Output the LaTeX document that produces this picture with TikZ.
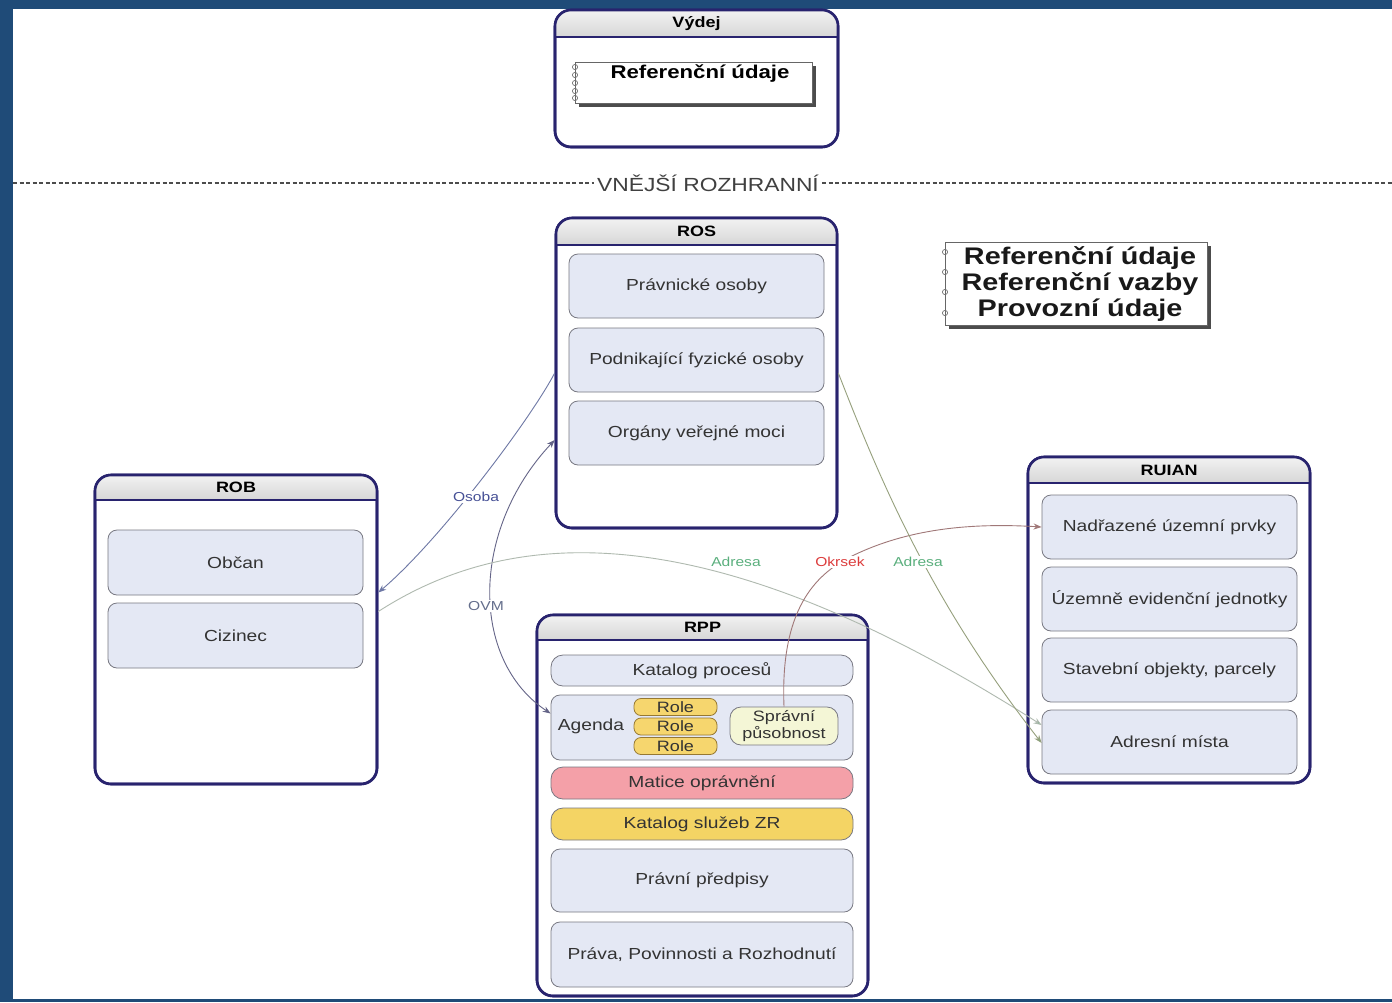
\documentclass[tikz,border=0pt]{standalone}
\usepackage{fontspec}
\setmainfont[FakeStretch=1.2]{Liberation Sans}
\usetikzlibrary{arrows.meta,calc}
\definecolor{frameblue}{RGB}{31,75,120}
\definecolor{navy}{RGB}{40,35,110}
\definecolor{itemfill}{RGB}{228,232,244}
\definecolor{itemline}{RGB}{120,120,130}
\definecolor{rolefill}{RGB}{246,214,110}
\definecolor{roleline}{RGB}{150,120,50}
\definecolor{spfill}{RGB}{244,246,214}
\definecolor{matfill}{RGB}{244,160,168}
\definecolor{katfill}{RGB}{244,212,100}
\definecolor{osobacol}{RGB}{70,80,150}
\definecolor{ovmcol}{RGB}{100,110,140}
\definecolor{adrcol}{RGB}{90,175,125}
\definecolor{okrcol}{RGB}{220,60,60}
\tikzset{
  container/.style={draw=navy, line width=2.6pt, rounded corners=16pt, fill=white, inner sep=0pt},
  itembox/.style={draw=itemline, line width=0.8pt, rounded corners=9pt, fill=itemfill,
    font=\fontsize{16}{18}\selectfont, text=black!80, inner sep=0pt, align=center},
  pill/.style={itembox, rounded corners=12pt},
  rolebox/.style={draw=roleline, line width=0.8pt, rounded corners=7pt, fill=rolefill,
    font=\fontsize{15}{15}\selectfont, text=black!80, inner sep=0pt, minimum width=83pt, minimum height=17pt},
  headtext/.style={font=\bfseries\fontsize{15}{17}\selectfont},
  notebox/.style={draw=black!60, line width=0.8pt, fill=white, inner sep=0pt},
  lbl/.style={font=\fontsize{13}{14}\selectfont, inner sep=1pt, fill=white},
  conn/.style={line width=0.9pt, -{Stealth[length=8pt,width=6pt]}},
}
\newcommand\mkcont[7]{%
  \node[container, minimum width={#4-#2}, minimum height={#5-#3}] (#1) at ({(#2+#4)/2},{(#3+#5)/2}) {};
  \begin{scope}
    \clip[rounded corners=16pt] (#2,#3) rectangle (#4,#5);
    \fill[top color=gray!10, bottom color=gray!32] (#2,#3) rectangle (#4,#6);
  \end{scope}
  \draw[navy, line width=1.8pt] (#2,#6) -- (#4,#6);
  \draw[navy, line width=2.6pt, rounded corners=16pt] (#2,#3) rectangle (#4,#5);
  \node[headtext] (#1-title) at ({(#2+#4)/2},{(#3+#6)/2}) {#7};
}
\newcommand\mknote[6]{%
  \fill[black!70] ({#2+4},{#3+4}) rectangle ({#4+4},{#5+4});
  \node[notebox, minimum width={#4-#2}, minimum height={#5-#3}] (#1) at ({(#2+#4)/2},{(#3+#5)/2}) {};
  \foreach \yy in {#6} {\draw[black!55, line width=0.7pt] (#2,\yy) circle (2.6pt);}
}
\begin{document}
\begin{tikzpicture}[x=1pt,y=-1pt]
\useasboundingbox (0,0) rectangle (1392,1002);
\fill[frameblue] (0,0) rectangle (1392,1002);
\fill[white] (13,9) rectangle (1392,999);

% Vydej
\mkcont{vydej}{555}{10}{838}{147}{37}{Výdej}
\mknote{vydnote}{575}{62}{812}{103}{67,75,83,91,98}
\node[font=\bfseries\fontsize{18.5}{20}\selectfont] (vydtext) at (700,74) {Referenční údaje};

% external interface line
\node[font=\fontsize{19}{21}\selectfont, text=black!75, inner sep=3pt] (rozh) at (708,183) {VNĚJŠÍ ROZHRANNÍ};
\coordinate (dl) at (13,183);
\coordinate (dr) at (1392,183);
\draw[black!70, line width=1.8pt, dash pattern=on 4pt off 2.5pt] (dl) -- (rozh.west);
\draw[black!70, line width=1.8pt, dash pattern=on 4pt off 2.5pt] (rozh.east) -- (dr);

% legend
\mknote{legend}{945}{242}{1207}{325}{252,272,292,313}
\node[font=\bfseries\fontsize{24}{26}\selectfont, align=center, text=black!90] (legtext) at (1080,284)
  {Referenční údaje\\Referenční vazby\\Provozní údaje};

% ROS
\mkcont{ros}{556}{218}{837}{528}{245}{ROS}
\node[itembox, minimum width=255pt, minimum height=64pt] (pravn) at (696.5,286) {Právnické osoby};
\node[itembox, minimum width=255pt, minimum height=64pt] (podn) at (696.5,360) {Podnikající fyzické osoby};
\node[itembox, minimum width=255pt, minimum height=64pt] (org) at (696.5,433) {Orgány veřejné moci};

% ROB
\mkcont{rob}{95}{475}{377}{784}{500}{ROB}
\node[itembox, minimum width=255pt, minimum height=65pt] (obcan) at (235.5,562.5) {Občan};
\node[itembox, minimum width=255pt, minimum height=65pt] (cizinec) at (235.5,635.5) {Cizinec};

% RUIAN
\mkcont{ruian}{1028}{457}{1310}{783}{483}{RUIAN}
\node[itembox, minimum width=255pt, minimum height=64pt] (nadr) at (1169.5,527) {Nadřazené územní prvky};
\node[itembox, minimum width=255pt, minimum height=64pt] (uzem) at (1169.5,599) {Územně evidenční jednotky};
\node[itembox, minimum width=255pt, minimum height=64pt] (stav) at (1169.5,670) {Stavební objekty, parcely};
\node[itembox, minimum width=255pt, minimum height=64pt] (adr) at (1169.5,742) {Adresní místa};

% RPP
\mkcont{rpp}{537}{615}{868}{996}{640}{RPP}
\node[pill, minimum width=302pt, minimum height=31pt] (katproc) at (702,670.5) {Katalog procesů};
\node[itembox, minimum width=302pt, minimum height=65pt] (agenda) at (702,727.5) {};
\node[font=\fontsize{16}{18}\selectfont, text=black!80] (agtext) at (591,726) {Agenda};
\node[rolebox] (role1) at (675.5,707) {Role};
\node[rolebox] (role2) at (675.5,726.5) {Role};
\node[rolebox] (role3) at (675.5,746) {Role};
\node[itembox, fill=spfill, rounded corners=11pt, minimum width=108pt, minimum height=38pt,
  font=\fontsize{15}{15}\selectfont] (sprav) at (784,726) {Správní\\působnost};
\node[pill, fill=matfill, minimum width=302pt, minimum height=32pt] (matice) at (702,783) {Matice oprávnění};
\node[pill, fill=katfill, minimum width=302pt, minimum height=32pt] (katsl) at (702,824) {Katalog služeb ZR};
\node[itembox, minimum width=302pt, minimum height=63pt] (pravpred) at (702,880.5) {Právní předpisy};
\node[itembox, minimum width=302pt, minimum height=65pt] (ppr) at (702,954.5) {Práva, Povinnosti a Rozhodnutí};

% connectors
\draw[conn, draw={rgb,255:red,110;green,120;blue,165}] (ros.west)
  .. controls (530,420) and (440,540) .. ([yshift=37pt]rob.east);
\node[lbl, text=osobacol] (osoba) at (476,497) {Osoba};

\draw[line width=0.9pt, {Stealth[length=8pt,width=6pt]}-{Stealth[length=8pt,width=6pt]},
  draw={rgb,255:red,100;green,100;blue,135}] ([yshift=-67pt]ros.west)
  .. controls (470,530) and (470,660) .. ([yshift=14pt]agenda.west);
\node[lbl, text=ovmcol] (ovm) at (486,606) {OVM};

\draw[conn, draw={rgb,255:red,175;green,185;blue,175}, -{Stealth[length=8pt,width=6pt,fill=adrcol]}]
  ([yshift=18pt]rob.east) .. controls (520,520) and (720,520) .. ([yshift=17pt]adr.west);
\node[lbl, text=adrcol] (adr1) at (736,562) {Adresa};

\draw[conn, draw={rgb,255:red,160;green,120;blue,120}] (sprav.north)
  .. controls (780,610) and (815,575) .. (850,557)
  .. controls (900,532) and (960,522) .. (nadr.west);
\node[lbl, text=okrcol] (okrsek) at (840,562) {Okrsek};

\draw[conn, draw={rgb,255:red,150;green,160;blue,125}, -{Stealth[length=8pt,width=6pt,fill=adrcol]}]
  (ros.east) .. controls (880,480) and (930,600) .. ([yshift=-1pt]adr.west);
\node[lbl, text=adrcol] (adr2) at (918,562) {Adresa};
\end{tikzpicture}
\end{document}
